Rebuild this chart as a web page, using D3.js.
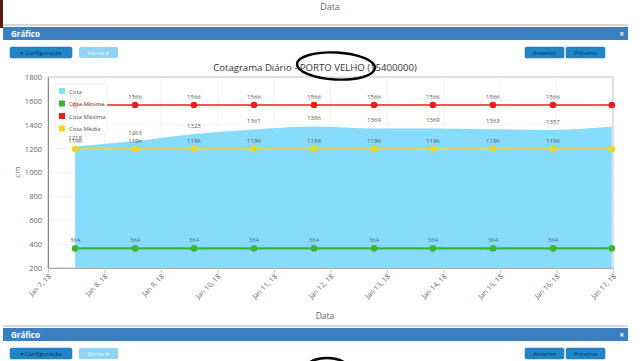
<!DOCTYPE html>
<html><head><meta charset="utf-8">
<script src="https://cdn.jsdelivr.net/npm/d3@7"></script>
<style>
html,body{margin:0;padding:0;background:#fff;overflow:hidden}
svg{display:block;font-family:"Open Sans","DejaVu Sans",sans-serif}
</style></head>
<body>
<svg id="c" width="640" height="361"></svg>
<script>
// ---- data ----
const pointDates = ["2018-01-07T11:30","2018-01-08T13:00","2018-01-09T14:00","2018-01-10T15:30","2018-01-11T17:00",
                    "2018-01-12T18:30","2018-01-13T19:30","2018-01-14T21:00","2018-01-15T22:30","2018-01-16T23:30"];
const cota       = [1218,1263,1323,1361,1386,1369,1369,1363,1357,1385];
const cotaMinima = [364,364,364,364,364,364,364,364,364,364];
const cotaMaxima = [1566,1566,1566,1566,1566,1566,1566,1566,1566,1566];
const cotaMedia  = [1196,1196,1196,1196,1196,1196,1196,1196,1196,1196];
const yTicks = [200,400,600,800,1000,1200,1400,1600,1800];
const xDomain = ["2018-01-07T00:00","2018-01-17T00:00"];
const legendNames = ["Cota","Cota Mínima","Cota Máxima","Cota Média"];
const titleText = "Cotagrama Diário - PORTO VELHO (15400000)";

const parse = d3.isoParse;
const dates = pointDates.map(parse);
const svg = d3.select("#c");

const L=48,R=613,T=77,B=268;
const x = d3.scaleTime().domain(xDomain.map(parse)).range([L,R]);
const y = d3.scaleLinear().domain([200,1800]).range([B,T]);

// ---- page chrome ----
svg.append("rect").attr("x",0).attr("y",0).attr("width",3).attr("height",28).attr("fill","#5a1a1a");
svg.append("text").attr("x",330).attr("y",10).attr("text-anchor","middle").attr("font-size",9).attr("fill","#666").text("Data");

function panel(yTop){
  svg.append("line").attr("x1",3).attr("x2",628).attr("y1",yTop-2).attr("y2",yTop-2).attr("stroke","#999").attr("stroke-width",0.8);
  svg.append("rect").attr("x",3).attr("y",yTop).attr("width",625).attr("height",13).attr("fill","#3c7fc0");
  svg.append("text").attr("x",11).attr("y",yTop+9.5).attr("font-size",8).attr("font-weight","bold").attr("fill","#fff").text("Gráfico");
  svg.append("text").attr("x",624).attr("y",yTop+9.5).attr("text-anchor","end").attr("font-size",8).attr("font-weight","bold").attr("fill","#fff").text("×");
  const by = yTop+20;
  const btn=(bx,w,fill,txt,col)=>{
    svg.append("rect").attr("x",bx).attr("y",by).attr("width",w).attr("height",11).attr("rx",1.5).attr("fill",fill).attr("stroke","#2a6fa8").attr("stroke-width",0.5);
    svg.append("text").attr("x",bx+w/2).attr("y",by+8).attr("text-anchor","middle").attr("font-size",6).attr("fill",col).text(txt);
  };
  btn(10,62,"#1f86c8","▾ Configuração","#0b3350");
  svg.append("rect").attr("x",79).attr("y",by).attr("width",39).attr("height",11).attr("rx",1.5).attr("fill","#8fd3f5");
  svg.append("text").attr("x",98).attr("y",by+8).attr("text-anchor","middle").attr("font-size",6).attr("fill","#e8f7ff").text("Séries ▾");
  btn(525,39,"#1f86c8","Anterior","#0b3350");
  btn(566,39,"#1f86c8","Próximo","#0b3350");
}
panel(27);
panel(328);

// title
svg.append("text").attr("x",315).attr("y",71).attr("text-anchor","middle").attr("font-size",9.6).attr("fill","#333").text(titleText);

// ---- plot ----
svg.append("g").selectAll("line").data(yTicks).join("line")
  .attr("x1",L).attr("x2",R).attr("y1",d=>y(d)).attr("y2",d=>y(d)).attr("stroke","#f0f0f0").attr("stroke-width",0.8);
const xt = x.ticks(d3.timeDay.every(1));
svg.append("g").selectAll("line").data(xt).join("line")
  .attr("x1",d=>x(d)).attr("x2",d=>x(d)).attr("y1",T).attr("y2",B).attr("stroke","#f0f0f0").attr("stroke-width",0.8);

svg.append("rect").attr("x",L).attr("y",T).attr("width",R-L).attr("height",B-T).attr("fill","none").attr("stroke","#c8c8c8").attr("stroke-width",1);

const area = d3.area().x((d,i)=>x(dates[i])).y0(y(200)).y1(d=>y(d)).curve(d3.curveMonotoneX);
svg.append("path").datum(cota).attr("d",area).attr("fill","#87dcfb");

const line = d3.line().x((d,i)=>x(dates[i])).y(d=>y(d));
const series = [
  {vals:cotaMaxima,color:"#f21b1b",w:1.6},
  {vals:cotaMedia,color:"#f2d422",w:1.6},
  {vals:cotaMinima,color:"#3cb535",w:2.4}
];
series.forEach(s=>{
  svg.append("path").datum(s.vals).attr("d",line).attr("fill","none").attr("stroke",s.color).attr("stroke-width",s.w);
  svg.append("g").selectAll("circle").data(s.vals).join("circle")
    .attr("cx",(d,i)=>x(dates[i])).attr("cy",d=>y(d)).attr("r",3.3).attr("fill",s.color);
});

function labels(vals,dy,col){
  svg.append("g").selectAll("text").data(vals.slice(0,vals.length-1)).join("text")
    .attr("x",(d,i)=>x(dates[i])).attr("y",d=>y(d)+dy).attr("text-anchor","middle")
    .attr("font-size",6).attr("fill",col).text(d=>d);
}
labels(cota,-6,"#555");
labels(cotaMaxima,-6,"#555");
labels(cotaMedia,-6,"#555");
labels(cotaMinima,-6,"#4f6a8a");

const ya = svg.append("g").attr("transform",`translate(${L},0)`)
  .call(d3.axisLeft(y).tickValues(yTicks).tickSize(0).tickPadding(6).tickFormat(d3.format("d")));
ya.select(".domain").attr("stroke","#888");
ya.selectAll("text").attr("font-size",7.5).attr("fill","#666").attr("font-family","Open Sans, DejaVu Sans, sans-serif");

const xa = svg.append("g").attr("transform",`translate(0,${B})`)
  .call(d3.axisBottom(x).tickValues(xt).tickSize(5).tickFormat(d3.timeFormat("%b %-d, %y")));
xa.select(".domain").attr("stroke","#aaa");
xa.selectAll(".tick line").attr("stroke","#ccc");
xa.selectAll("text").attr("font-size",7).attr("fill","#666").attr("font-family","Open Sans, DejaVu Sans, sans-serif")
  .attr("text-anchor","end").attr("transform","translate(-2,4) rotate(-45)").attr("dy","0.3em").attr("y",5);

svg.append("text").attr("transform","translate(20,172) rotate(-90)").attr("text-anchor","middle")
  .attr("font-size",8).attr("fill","#777").text("cm");
svg.append("text").attr("x",325).attr("y",319).attr("text-anchor","middle").attr("font-size",8.5).attr("fill","#666").text("Data");

const lg = svg.append("g");
lg.append("rect").attr("x",55).attr("y",84).attr("width",52).attr("height",50).attr("fill","#fff").attr("fill-opacity",0.75).attr("stroke","#e4e4e4").attr("stroke-width",0.6);
const lcols = ["#87dcfb","#3cb535","#f21b1b","#f2d422"];
legendNames.forEach((n,i)=>{
  lg.append("rect").attr("x",59).attr("y",88+i*12.5).attr("width",6).attr("height",6).attr("fill",lcols[i]);
  lg.append("text").attr("x",69).attr("y",93.5+i*12.5).attr("font-size",6).attr("fill","#555").text(n);
});

svg.append("ellipse").attr("cx",336).attr("cy",66).attr("rx",39).attr("ry",13.5).attr("fill","none").attr("stroke","#000").attr("stroke-width",2.4)
  .attr("transform","rotate(3,336,66)");
svg.append("ellipse").attr("cx",327).attr("cy",372).attr("rx",24).attr("ry",14).attr("fill","none").attr("stroke","#000").attr("stroke-width",2.4);
</script>
</body></html>
